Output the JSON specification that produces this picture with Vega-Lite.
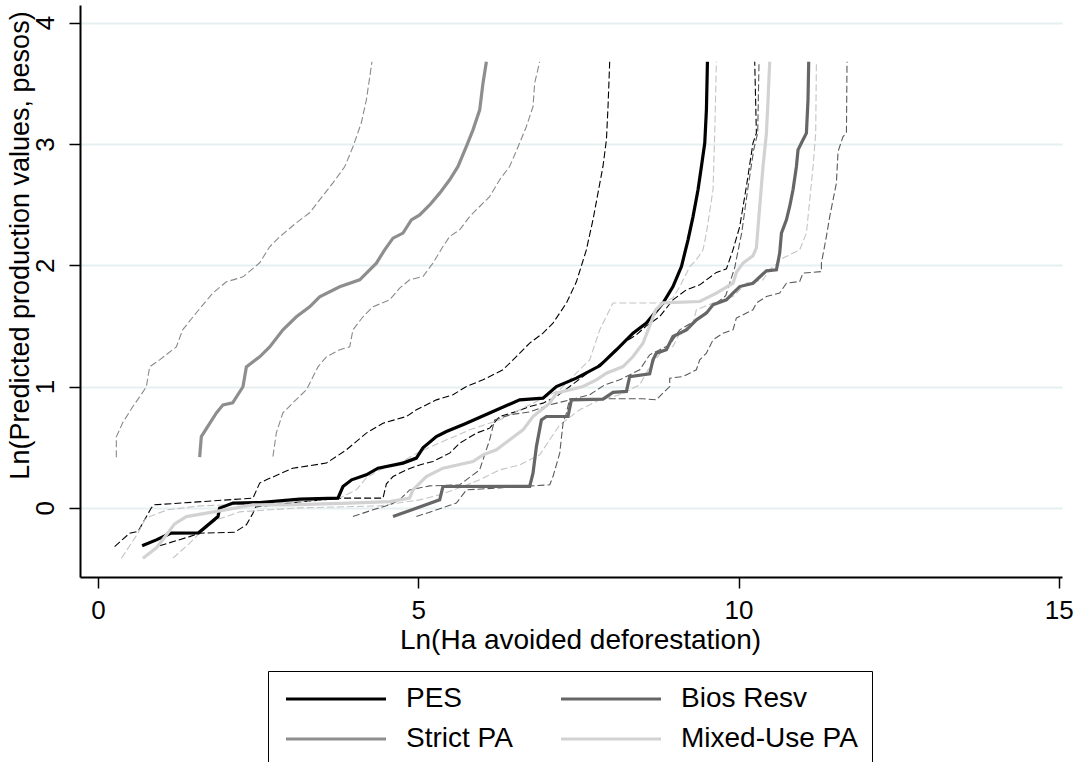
{
"$schema": "https://vega.github.io/schema/vega-lite/v6.json",
"width": 982, "height": 572,
"autosize": {"type": "none"},
"padding": {"left": 80, "top": 5, "right": 16, "bottom": 185},
"background": "white",
"config": {"view": {"stroke": null}, "font": "Liberation Sans"},
"data": {"values": [
{"s":"PES","b":"est","i":0,"x":0.69,"y":-0.313},{"s":"PES","b":"est","i":1,"x":0.912,"y":-0.264},{"s":"PES","b":"est","i":2,"x":1.135,"y":-0.209},{"s":"PES","b":"est","i":3,"x":1.572,"y":-0.206},{"s":"PES","b":"est","i":4,"x":1.874,"y":-0.072},{"s":"PES","b":"est","i":5,"x":1.9,"y":-0.002},{"s":"PES","b":"est","i":6,"x":2.108,"y":0.039},{"s":"PES","b":"est","i":7,"x":2.525,"y":0.044},{"s":"PES","b":"est","i":8,"x":3.149,"y":0.072},{"s":"PES","b":"est","i":9,"x":3.747,"y":0.08},{"s":"PES","b":"est","i":10,"x":3.825,"y":0.176},{"s":"PES","b":"est","i":11,"x":3.961,"y":0.231},{"s":"PES","b":"est","i":12,"x":4.19,"y":0.272},{"s":"PES","b":"est","i":13,"x":4.372,"y":0.327},{"s":"PES","b":"est","i":14,"x":4.762,"y":0.369},{"s":"PES","b":"est","i":15,"x":4.971,"y":0.41},{"s":"PES","b":"est","i":16,"x":5.074,"y":0.495},{"s":"PES","b":"est","i":17,"x":5.283,"y":0.588},{"s":"PES","b":"est","i":18,"x":5.44,"y":0.629},{"s":"PES","b":"est","i":19,"x":5.725,"y":0.692},{"s":"PES","b":"est","i":20,"x":6.167,"y":0.794},{"s":"PES","b":"est","i":21,"x":6.584,"y":0.89},{"s":"PES","b":"est","i":22,"x":6.948,"y":0.904},{"s":"PES","b":"est","i":23,"x":7.157,"y":1.0},{"s":"PES","b":"est","i":24,"x":7.469,"y":1.069},{"s":"PES","b":"est","i":25,"x":7.833,"y":1.171},{"s":"PES","b":"est","i":26,"x":8.094,"y":1.303},{"s":"PES","b":"est","i":27,"x":8.353,"y":1.44},{"s":"PES","b":"est","i":28,"x":8.562,"y":1.523},{"s":"PES","b":"est","i":29,"x":8.821,"y":1.688},{"s":"PES","b":"est","i":30,"x":8.977,"y":1.824},{"s":"PES","b":"est","i":31,"x":9.109,"y":1.989},{"s":"PES","b":"est","i":32,"x":9.212,"y":2.209},{"s":"PES","b":"est","i":33,"x":9.29,"y":2.401},{"s":"PES","b":"est","i":34,"x":9.368,"y":2.622},{"s":"PES","b":"est","i":35,"x":9.421,"y":2.814},{"s":"PES","b":"est","i":36,"x":9.473,"y":3.007},{"s":"PES","b":"est","i":37,"x":9.499,"y":3.281},{"s":"PES","b":"est","i":38,"x":9.515,"y":3.677},
{"s":"PES","b":"lo","i":0,"x":0.261,"y":-0.319},{"s":"PES","b":"lo","i":1,"x":0.495,"y":-0.209},{"s":"PES","b":"lo","i":2,"x":0.625,"y":-0.195},{"s":"PES","b":"lo","i":3,"x":0.834,"y":0.0},{"s":"PES","b":"lo","i":4,"x":0.885,"y":0.025},{"s":"PES","b":"lo","i":5,"x":2.42,"y":0.08},{"s":"PES","b":"lo","i":6,"x":2.525,"y":0.204},{"s":"PES","b":"lo","i":7,"x":2.629,"y":0.231},{"s":"PES","b":"lo","i":8,"x":3.044,"y":0.327},{"s":"PES","b":"lo","i":9,"x":3.566,"y":0.369},{"s":"PES","b":"lo","i":10,"x":3.878,"y":0.478},{"s":"PES","b":"lo","i":11,"x":4.19,"y":0.616},{"s":"PES","b":"lo","i":12,"x":4.45,"y":0.698},{"s":"PES","b":"lo","i":13,"x":4.815,"y":0.753},{"s":"PES","b":"lo","i":14,"x":4.971,"y":0.808},{"s":"PES","b":"lo","i":15,"x":5.283,"y":0.89},{"s":"PES","b":"lo","i":16,"x":5.543,"y":0.932},{"s":"PES","b":"lo","i":17,"x":5.752,"y":1.0},{"s":"PES","b":"lo","i":18,"x":6.011,"y":1.055},{"s":"PES","b":"lo","i":19,"x":6.323,"y":1.138},{"s":"PES","b":"lo","i":20,"x":6.532,"y":1.247},{"s":"PES","b":"lo","i":21,"x":6.74,"y":1.358},{"s":"PES","b":"lo","i":22,"x":6.948,"y":1.44},{"s":"PES","b":"lo","i":23,"x":7.104,"y":1.523},{"s":"PES","b":"lo","i":24,"x":7.313,"y":1.688},{"s":"PES","b":"lo","i":25,"x":7.469,"y":1.863},{"s":"PES","b":"lo","i":26,"x":7.625,"y":2.127},{"s":"PES","b":"lo","i":27,"x":7.728,"y":2.374},{"s":"PES","b":"lo","i":28,"x":7.806,"y":2.594},{"s":"PES","b":"lo","i":29,"x":7.884,"y":2.814},{"s":"PES","b":"lo","i":30,"x":7.938,"y":3.034},{"s":"PES","b":"lo","i":31,"x":7.963,"y":3.308},{"s":"PES","b":"lo","i":32,"x":7.989,"y":3.677},
{"s":"PES","b":"hi","i":0,"x":0.963,"y":-0.313},{"s":"PES","b":"hi","i":1,"x":1.432,"y":-0.237},{"s":"PES","b":"hi","i":2,"x":1.588,"y":-0.209},{"s":"PES","b":"hi","i":3,"x":2.134,"y":-0.201},{"s":"PES","b":"hi","i":4,"x":2.317,"y":-0.14},{"s":"PES","b":"hi","i":5,"x":2.42,"y":-0.044},{"s":"PES","b":"hi","i":6,"x":2.462,"y":0.008},{"s":"PES","b":"hi","i":7,"x":3.149,"y":0.049},{"s":"PES","b":"hi","i":8,"x":3.82,"y":0.08},{"s":"PES","b":"hi","i":9,"x":4.45,"y":0.08},{"s":"PES","b":"hi","i":10,"x":4.503,"y":0.198},{"s":"PES","b":"hi","i":11,"x":4.606,"y":0.258},{"s":"PES","b":"hi","i":12,"x":4.815,"y":0.313},{"s":"PES","b":"hi","i":13,"x":5.023,"y":0.354},{"s":"PES","b":"hi","i":14,"x":5.23,"y":0.382},{"s":"PES","b":"hi","i":15,"x":5.491,"y":0.451},{"s":"PES","b":"hi","i":16,"x":5.647,"y":0.533},{"s":"PES","b":"hi","i":17,"x":5.908,"y":0.616},{"s":"PES","b":"hi","i":18,"x":6.115,"y":0.657},{"s":"PES","b":"hi","i":19,"x":6.271,"y":0.753},{"s":"PES","b":"hi","i":20,"x":6.532,"y":0.794},{"s":"PES","b":"hi","i":21,"x":6.74,"y":0.835},{"s":"PES","b":"hi","i":22,"x":6.948,"y":0.863},{"s":"PES","b":"hi","i":23,"x":7.157,"y":0.918},{"s":"PES","b":"hi","i":24,"x":7.365,"y":1.0},{"s":"PES","b":"hi","i":25,"x":7.572,"y":1.082},{"s":"PES","b":"hi","i":26,"x":7.781,"y":1.165},{"s":"PES","b":"hi","i":27,"x":7.989,"y":1.247},{"s":"PES","b":"hi","i":28,"x":8.197,"y":1.358},{"s":"PES","b":"hi","i":29,"x":8.406,"y":1.426},{"s":"PES","b":"hi","i":30,"x":8.562,"y":1.5},{"s":"PES","b":"hi","i":31,"x":8.77,"y":1.577},{"s":"PES","b":"hi","i":32,"x":8.977,"y":1.715},{"s":"PES","b":"hi","i":33,"x":9.187,"y":1.797},{"s":"PES","b":"hi","i":34,"x":9.394,"y":1.838},{"s":"PES","b":"hi","i":35,"x":9.655,"y":1.941},{"s":"PES","b":"hi","i":36,"x":9.811,"y":1.97},{"s":"PES","b":"hi","i":37,"x":9.914,"y":2.127},{"s":"PES","b":"hi","i":38,"x":10.019,"y":2.319},{"s":"PES","b":"hi","i":39,"x":10.123,"y":2.649},{"s":"PES","b":"hi","i":40,"x":10.226,"y":3.007},{"s":"PES","b":"hi","i":41,"x":10.279,"y":3.089},{"s":"PES","b":"hi","i":42,"x":10.253,"y":3.677},
{"s":"Strict PA","b":"est","i":0,"x":1.588,"y":0.418},{"s":"Strict PA","b":"est","i":1,"x":1.614,"y":0.588},{"s":"Strict PA","b":"est","i":2,"x":1.849,"y":0.783},{"s":"Strict PA","b":"est","i":3,"x":1.952,"y":0.849},{"s":"Strict PA","b":"est","i":4,"x":2.103,"y":0.866},{"s":"Strict PA","b":"est","i":5,"x":2.264,"y":0.998},{"s":"Strict PA","b":"est","i":6,"x":2.317,"y":1.162},{"s":"Strict PA","b":"est","i":7,"x":2.525,"y":1.245},{"s":"Strict PA","b":"est","i":8,"x":2.681,"y":1.327},{"s":"Strict PA","b":"est","i":9,"x":2.888,"y":1.467},{"s":"Strict PA","b":"est","i":10,"x":3.098,"y":1.575},{"s":"Strict PA","b":"est","i":11,"x":3.305,"y":1.657},{"s":"Strict PA","b":"est","i":12,"x":3.461,"y":1.739},{"s":"Strict PA","b":"est","i":13,"x":3.774,"y":1.822},{"s":"Strict PA","b":"est","i":14,"x":4.086,"y":1.88},{"s":"Strict PA","b":"est","i":15,"x":4.347,"y":2.017},{"s":"Strict PA","b":"est","i":16,"x":4.476,"y":2.127},{"s":"Strict PA","b":"est","i":17,"x":4.606,"y":2.223},{"s":"Strict PA","b":"est","i":18,"x":4.762,"y":2.265},{"s":"Strict PA","b":"est","i":19,"x":4.893,"y":2.374},{"s":"Strict PA","b":"est","i":20,"x":5.023,"y":2.415},{"s":"Strict PA","b":"est","i":21,"x":5.179,"y":2.497},{"s":"Strict PA","b":"est","i":22,"x":5.335,"y":2.594},{"s":"Strict PA","b":"est","i":23,"x":5.491,"y":2.704},{"s":"Strict PA","b":"est","i":24,"x":5.621,"y":2.814},{"s":"Strict PA","b":"est","i":25,"x":5.752,"y":2.979},{"s":"Strict PA","b":"est","i":26,"x":5.855,"y":3.116},{"s":"Strict PA","b":"est","i":27,"x":5.96,"y":3.281},{"s":"Strict PA","b":"est","i":28,"x":6.011,"y":3.501},{"s":"Strict PA","b":"est","i":29,"x":6.064,"y":3.677},
{"s":"Strict PA","b":"lo","i":0,"x":0.287,"y":0.418},{"s":"Strict PA","b":"lo","i":1,"x":0.287,"y":0.585},{"s":"Strict PA","b":"lo","i":2,"x":0.386,"y":0.701},{"s":"Strict PA","b":"lo","i":3,"x":0.542,"y":0.833},{"s":"Strict PA","b":"lo","i":4,"x":0.651,"y":0.915},{"s":"Strict PA","b":"lo","i":5,"x":0.756,"y":0.998},{"s":"Strict PA","b":"lo","i":6,"x":0.807,"y":1.162},{"s":"Strict PA","b":"lo","i":7,"x":0.963,"y":1.22},{"s":"Strict PA","b":"lo","i":8,"x":1.224,"y":1.327},{"s":"Strict PA","b":"lo","i":9,"x":1.322,"y":1.467},{"s":"Strict PA","b":"lo","i":10,"x":1.536,"y":1.608},{"s":"Strict PA","b":"lo","i":11,"x":1.795,"y":1.772},{"s":"Strict PA","b":"lo","i":12,"x":2.005,"y":1.863},{"s":"Strict PA","b":"lo","i":13,"x":2.264,"y":1.904},{"s":"Strict PA","b":"lo","i":14,"x":2.525,"y":2.02},{"s":"Strict PA","b":"lo","i":15,"x":2.681,"y":2.152},{"s":"Strict PA","b":"lo","i":16,"x":2.837,"y":2.234},{"s":"Strict PA","b":"lo","i":17,"x":3.098,"y":2.35},{"s":"Strict PA","b":"lo","i":18,"x":3.305,"y":2.432},{"s":"Strict PA","b":"lo","i":19,"x":3.461,"y":2.539},{"s":"Strict PA","b":"lo","i":20,"x":3.669,"y":2.679},{"s":"Strict PA","b":"lo","i":21,"x":3.852,"y":2.811},{"s":"Strict PA","b":"lo","i":22,"x":3.981,"y":2.976},{"s":"Strict PA","b":"lo","i":23,"x":4.112,"y":3.174},{"s":"Strict PA","b":"lo","i":24,"x":4.191,"y":3.364},{"s":"Strict PA","b":"lo","i":25,"x":4.278,"y":3.677},
{"s":"Strict PA","b":"hi","i":0,"x":2.732,"y":0.423},{"s":"Strict PA","b":"hi","i":1,"x":2.785,"y":0.618},{"s":"Strict PA","b":"hi","i":2,"x":2.888,"y":0.783},{"s":"Strict PA","b":"hi","i":3,"x":3.044,"y":0.866},{"s":"Strict PA","b":"hi","i":4,"x":3.254,"y":0.973},{"s":"Strict PA","b":"hi","i":5,"x":3.357,"y":1.08},{"s":"Strict PA","b":"hi","i":6,"x":3.435,"y":1.162},{"s":"Strict PA","b":"hi","i":7,"x":3.566,"y":1.245},{"s":"Strict PA","b":"hi","i":8,"x":3.774,"y":1.303},{"s":"Strict PA","b":"hi","i":9,"x":3.93,"y":1.327},{"s":"Strict PA","b":"hi","i":10,"x":3.981,"y":1.467},{"s":"Strict PA","b":"hi","i":11,"x":4.137,"y":1.575},{"s":"Strict PA","b":"hi","i":12,"x":4.294,"y":1.657},{"s":"Strict PA","b":"hi","i":13,"x":4.554,"y":1.715},{"s":"Strict PA","b":"hi","i":14,"x":4.71,"y":1.811},{"s":"Strict PA","b":"hi","i":15,"x":4.866,"y":1.88},{"s":"Strict PA","b":"hi","i":16,"x":5.074,"y":1.907},{"s":"Strict PA","b":"hi","i":17,"x":5.23,"y":2.017},{"s":"Strict PA","b":"hi","i":18,"x":5.386,"y":2.154},{"s":"Strict PA","b":"hi","i":19,"x":5.491,"y":2.237},{"s":"Strict PA","b":"hi","i":20,"x":5.647,"y":2.292},{"s":"Strict PA","b":"hi","i":21,"x":5.803,"y":2.401},{"s":"Strict PA","b":"hi","i":22,"x":5.959,"y":2.484},{"s":"Strict PA","b":"hi","i":23,"x":6.115,"y":2.566},{"s":"Strict PA","b":"hi","i":24,"x":6.271,"y":2.704},{"s":"Strict PA","b":"hi","i":25,"x":6.427,"y":2.814},{"s":"Strict PA","b":"hi","i":26,"x":6.583,"y":3.007},{"s":"Strict PA","b":"hi","i":27,"x":6.689,"y":3.144},{"s":"Strict PA","b":"hi","i":28,"x":6.792,"y":3.308},{"s":"Strict PA","b":"hi","i":29,"x":6.818,"y":3.501},{"s":"Strict PA","b":"hi","i":30,"x":6.896,"y":3.677},
{"s":"Mixed-Use PA","b":"est","i":0,"x":0.703,"y":-0.415},{"s":"Mixed-Use PA","b":"est","i":1,"x":0.912,"y":-0.33},{"s":"Mixed-Use PA","b":"est","i":2,"x":1.068,"y":-0.223},{"s":"Mixed-Use PA","b":"est","i":3,"x":1.197,"y":-0.132},{"s":"Mixed-Use PA","b":"est","i":4,"x":1.38,"y":-0.072},{"s":"Mixed-Use PA","b":"est","i":5,"x":1.9,"y":-0.025},{"s":"Mixed-Use PA","b":"est","i":6,"x":2.42,"y":0.025},{"s":"Mixed-Use PA","b":"est","i":7,"x":2.993,"y":0.025},{"s":"Mixed-Use PA","b":"est","i":8,"x":3.93,"y":0.039},{"s":"Mixed-Use PA","b":"est","i":9,"x":4.554,"y":0.052},{"s":"Mixed-Use PA","b":"est","i":10,"x":4.866,"y":0.08},{"s":"Mixed-Use PA","b":"est","i":11,"x":4.918,"y":0.148},{"s":"Mixed-Use PA","b":"est","i":12,"x":5.127,"y":0.258},{"s":"Mixed-Use PA","b":"est","i":13,"x":5.386,"y":0.327},{"s":"Mixed-Use PA","b":"est","i":14,"x":5.855,"y":0.382},{"s":"Mixed-Use PA","b":"est","i":15,"x":6.011,"y":0.437},{"s":"Mixed-Use PA","b":"est","i":16,"x":6.22,"y":0.478},{"s":"Mixed-Use PA","b":"est","i":17,"x":6.428,"y":0.561},{"s":"Mixed-Use PA","b":"est","i":18,"x":6.636,"y":0.643},{"s":"Mixed-Use PA","b":"est","i":19,"x":6.792,"y":0.753},{"s":"Mixed-Use PA","b":"est","i":20,"x":7.052,"y":0.863},{"s":"Mixed-Use PA","b":"est","i":21,"x":7.157,"y":0.946},{"s":"Mixed-Use PA","b":"est","i":22,"x":7.572,"y":1.0},{"s":"Mixed-Use PA","b":"est","i":23,"x":7.781,"y":1.055},{"s":"Mixed-Use PA","b":"est","i":24,"x":7.938,"y":1.11},{"s":"Mixed-Use PA","b":"est","i":25,"x":8.197,"y":1.165},{"s":"Mixed-Use PA","b":"est","i":26,"x":8.353,"y":1.247},{"s":"Mixed-Use PA","b":"est","i":27,"x":8.509,"y":1.358},{"s":"Mixed-Use PA","b":"est","i":28,"x":8.613,"y":1.5},{"s":"Mixed-Use PA","b":"est","i":29,"x":8.707,"y":1.632},{"s":"Mixed-Use PA","b":"est","i":30,"x":8.821,"y":1.69},{"s":"Mixed-Use PA","b":"est","i":31,"x":9.394,"y":1.701},{"s":"Mixed-Use PA","b":"est","i":32,"x":9.655,"y":1.77},{"s":"Mixed-Use PA","b":"est","i":33,"x":9.914,"y":1.852},{"s":"Mixed-Use PA","b":"est","i":34,"x":9.972,"y":1.946},{"s":"Mixed-Use PA","b":"est","i":35,"x":10.07,"y":2.017},{"s":"Mixed-Use PA","b":"est","i":36,"x":10.226,"y":2.078},{"s":"Mixed-Use PA","b":"est","i":37,"x":10.279,"y":2.143},{"s":"Mixed-Use PA","b":"est","i":38,"x":10.331,"y":2.484},{"s":"Mixed-Use PA","b":"est","i":39,"x":10.383,"y":2.814},{"s":"Mixed-Use PA","b":"est","i":40,"x":10.436,"y":3.089},{"s":"Mixed-Use PA","b":"est","i":41,"x":10.461,"y":3.364},{"s":"Mixed-Use PA","b":"est","i":42,"x":10.487,"y":3.677},
{"s":"Mixed-Use PA","b":"lo","i":0,"x":0.367,"y":-0.415},{"s":"Mixed-Use PA","b":"lo","i":1,"x":0.625,"y":-0.209},{"s":"Mixed-Use PA","b":"lo","i":2,"x":0.729,"y":-0.099},{"s":"Mixed-Use PA","b":"lo","i":3,"x":0.807,"y":-0.072},{"s":"Mixed-Use PA","b":"lo","i":4,"x":1.087,"y":-0.016},{"s":"Mixed-Use PA","b":"lo","i":5,"x":1.588,"y":0.016},{"s":"Mixed-Use PA","b":"lo","i":6,"x":2.525,"y":0.033},{"s":"Mixed-Use PA","b":"lo","i":7,"x":3.149,"y":0.049},{"s":"Mixed-Use PA","b":"lo","i":8,"x":3.774,"y":0.082},{"s":"Mixed-Use PA","b":"lo","i":9,"x":4.034,"y":0.148},{"s":"Mixed-Use PA","b":"lo","i":10,"x":4.19,"y":0.247},{"s":"Mixed-Use PA","b":"lo","i":11,"x":4.398,"y":0.313},{"s":"Mixed-Use PA","b":"lo","i":12,"x":4.71,"y":0.371},{"s":"Mixed-Use PA","b":"lo","i":13,"x":5.023,"y":0.462},{"s":"Mixed-Use PA","b":"lo","i":14,"x":5.335,"y":0.536},{"s":"Mixed-Use PA","b":"lo","i":15,"x":5.803,"y":0.643},{"s":"Mixed-Use PA","b":"lo","i":16,"x":6.271,"y":0.725},{"s":"Mixed-Use PA","b":"lo","i":17,"x":6.584,"y":0.808},{"s":"Mixed-Use PA","b":"lo","i":18,"x":6.896,"y":0.89},{"s":"Mixed-Use PA","b":"lo","i":19,"x":7.209,"y":0.973},{"s":"Mixed-Use PA","b":"lo","i":20,"x":7.521,"y":1.138},{"s":"Mixed-Use PA","b":"lo","i":21,"x":7.677,"y":1.22},{"s":"Mixed-Use PA","b":"lo","i":22,"x":7.833,"y":1.467},{"s":"Mixed-Use PA","b":"lo","i":23,"x":8.041,"y":1.688},{"s":"Mixed-Use PA","b":"lo","i":24,"x":8.821,"y":1.688},{"s":"Mixed-Use PA","b":"lo","i":25,"x":8.977,"y":1.731},{"s":"Mixed-Use PA","b":"lo","i":26,"x":9.082,"y":1.822},{"s":"Mixed-Use PA","b":"lo","i":27,"x":9.238,"y":1.987},{"s":"Mixed-Use PA","b":"lo","i":28,"x":9.342,"y":2.045},{"s":"Mixed-Use PA","b":"lo","i":29,"x":9.446,"y":2.127},{"s":"Mixed-Use PA","b":"lo","i":30,"x":9.499,"y":2.265},{"s":"Mixed-Use PA","b":"lo","i":31,"x":9.602,"y":2.622},{"s":"Mixed-Use PA","b":"lo","i":32,"x":9.629,"y":3.092},{"s":"Mixed-Use PA","b":"lo","i":33,"x":9.655,"y":3.677},
{"s":"Mixed-Use PA","b":"hi","i":0,"x":1.171,"y":-0.415},{"s":"Mixed-Use PA","b":"hi","i":1,"x":1.432,"y":-0.291},{"s":"Mixed-Use PA","b":"hi","i":2,"x":1.588,"y":-0.209},{"s":"Mixed-Use PA","b":"hi","i":3,"x":1.849,"y":-0.099},{"s":"Mixed-Use PA","b":"hi","i":4,"x":2.212,"y":-0.033},{"s":"Mixed-Use PA","b":"hi","i":5,"x":3.149,"y":0.0},{"s":"Mixed-Use PA","b":"hi","i":6,"x":4.398,"y":0.016},{"s":"Mixed-Use PA","b":"hi","i":7,"x":5.023,"y":0.066},{"s":"Mixed-Use PA","b":"hi","i":8,"x":5.335,"y":0.107},{"s":"Mixed-Use PA","b":"hi","i":9,"x":5.647,"y":0.165},{"s":"Mixed-Use PA","b":"hi","i":10,"x":5.959,"y":0.231},{"s":"Mixed-Use PA","b":"hi","i":11,"x":6.271,"y":0.313},{"s":"Mixed-Use PA","b":"hi","i":12,"x":6.584,"y":0.354},{"s":"Mixed-Use PA","b":"hi","i":13,"x":6.896,"y":0.437},{"s":"Mixed-Use PA","b":"hi","i":14,"x":7.052,"y":0.561},{"s":"Mixed-Use PA","b":"hi","i":15,"x":7.209,"y":0.684},{"s":"Mixed-Use PA","b":"hi","i":16,"x":7.521,"y":0.808},{"s":"Mixed-Use PA","b":"hi","i":17,"x":7.833,"y":0.89},{"s":"Mixed-Use PA","b":"hi","i":18,"x":8.146,"y":0.932},{"s":"Mixed-Use PA","b":"hi","i":19,"x":8.458,"y":1.014},{"s":"Mixed-Use PA","b":"hi","i":20,"x":8.613,"y":1.162},{"s":"Mixed-Use PA","b":"hi","i":21,"x":8.821,"y":1.303},{"s":"Mixed-Use PA","b":"hi","i":22,"x":8.977,"y":1.33},{"s":"Mixed-Use PA","b":"hi","i":23,"x":9.082,"y":1.44},{"s":"Mixed-Use PA","b":"hi","i":24,"x":9.29,"y":1.523},{"s":"Mixed-Use PA","b":"hi","i":25,"x":9.342,"y":1.632},{"s":"Mixed-Use PA","b":"hi","i":26,"x":9.602,"y":1.688},{"s":"Mixed-Use PA","b":"hi","i":27,"x":9.914,"y":1.742},{"s":"Mixed-Use PA","b":"hi","i":28,"x":10.123,"y":1.852},{"s":"Mixed-Use PA","b":"hi","i":29,"x":10.383,"y":1.88},{"s":"Mixed-Use PA","b":"hi","i":30,"x":10.487,"y":1.962},{"s":"Mixed-Use PA","b":"hi","i":31,"x":10.695,"y":2.059},{"s":"Mixed-Use PA","b":"hi","i":32,"x":10.955,"y":2.127},{"s":"Mixed-Use PA","b":"hi","i":33,"x":11.06,"y":2.265},{"s":"Mixed-Use PA","b":"hi","i":34,"x":11.112,"y":2.539},{"s":"Mixed-Use PA","b":"hi","i":35,"x":11.164,"y":2.814},{"s":"Mixed-Use PA","b":"hi","i":36,"x":11.205,"y":3.089},{"s":"Mixed-Use PA","b":"hi","i":37,"x":11.216,"y":3.677},
{"s":"Bios Resv","b":"est","i":0,"x":4.606,"y":-0.072},{"s":"Bios Resv","b":"est","i":1,"x":5.335,"y":0.066},{"s":"Bios Resv","b":"est","i":2,"x":5.386,"y":0.176},{"s":"Bios Resv","b":"est","i":3,"x":6.74,"y":0.177},{"s":"Bios Resv","b":"est","i":4,"x":6.792,"y":0.286},{"s":"Bios Resv","b":"est","i":5,"x":6.845,"y":0.505},{"s":"Bios Resv","b":"est","i":6,"x":6.923,"y":0.725},{"s":"Bios Resv","b":"est","i":7,"x":7.001,"y":0.753},{"s":"Bios Resv","b":"est","i":8,"x":7.338,"y":0.753},{"s":"Bios Resv","b":"est","i":9,"x":7.391,"y":0.89},{"s":"Bios Resv","b":"est","i":10,"x":7.884,"y":0.896},{"s":"Bios Resv","b":"est","i":11,"x":8.041,"y":0.952},{"s":"Bios Resv","b":"est","i":12,"x":8.25,"y":0.96},{"s":"Bios Resv","b":"est","i":13,"x":8.301,"y":1.082},{"s":"Bios Resv","b":"est","i":14,"x":8.613,"y":1.105},{"s":"Bios Resv","b":"est","i":15,"x":8.665,"y":1.22},{"s":"Bios Resv","b":"est","i":16,"x":8.718,"y":1.275},{"s":"Bios Resv","b":"est","i":17,"x":8.874,"y":1.303},{"s":"Bios Resv","b":"est","i":18,"x":8.977,"y":1.412},{"s":"Bios Resv","b":"est","i":19,"x":9.187,"y":1.467},{"s":"Bios Resv","b":"est","i":20,"x":9.343,"y":1.55},{"s":"Bios Resv","b":"est","i":21,"x":9.499,"y":1.605},{"s":"Bios Resv","b":"est","i":22,"x":9.602,"y":1.674},{"s":"Bios Resv","b":"est","i":23,"x":9.811,"y":1.715},{"s":"Bios Resv","b":"est","i":24,"x":9.914,"y":1.77},{"s":"Bios Resv","b":"est","i":25,"x":10.019,"y":1.824},{"s":"Bios Resv","b":"est","i":26,"x":10.226,"y":1.852},{"s":"Bios Resv","b":"est","i":27,"x":10.436,"y":1.954},{"s":"Bios Resv","b":"est","i":28,"x":10.592,"y":1.962},{"s":"Bios Resv","b":"est","i":29,"x":10.643,"y":2.1},{"s":"Bios Resv","b":"est","i":30,"x":10.67,"y":2.265},{"s":"Bios Resv","b":"est","i":31,"x":10.748,"y":2.374},{"s":"Bios Resv","b":"est","i":32,"x":10.799,"y":2.484},{"s":"Bios Resv","b":"est","i":33,"x":10.851,"y":2.622},{"s":"Bios Resv","b":"est","i":34,"x":10.904,"y":2.814},{"s":"Bios Resv","b":"est","i":35,"x":10.929,"y":2.951},{"s":"Bios Resv","b":"est","i":36,"x":11.007,"y":3.034},{"s":"Bios Resv","b":"est","i":37,"x":11.06,"y":3.089},{"s":"Bios Resv","b":"est","i":38,"x":11.085,"y":3.364},{"s":"Bios Resv","b":"est","i":39,"x":11.096,"y":3.677},
{"s":"Bios Resv","b":"lo","i":0,"x":3.981,"y":-0.072},{"s":"Bios Resv","b":"lo","i":1,"x":4.294,"y":-0.016},{"s":"Bios Resv","b":"lo","i":2,"x":4.554,"y":0.025},{"s":"Bios Resv","b":"lo","i":3,"x":4.71,"y":0.066},{"s":"Bios Resv","b":"lo","i":4,"x":4.866,"y":0.148},{"s":"Bios Resv","b":"lo","i":5,"x":5.179,"y":0.181},{"s":"Bios Resv","b":"lo","i":6,"x":5.647,"y":0.19},{"s":"Bios Resv","b":"lo","i":7,"x":5.959,"y":0.313},{"s":"Bios Resv","b":"lo","i":8,"x":6.115,"y":0.561},{"s":"Bios Resv","b":"lo","i":9,"x":6.193,"y":0.725},{"s":"Bios Resv","b":"lo","i":10,"x":6.428,"y":0.767},{"s":"Bios Resv","b":"lo","i":11,"x":6.74,"y":0.791},{"s":"Bios Resv","b":"lo","i":12,"x":7.052,"y":0.849},{"s":"Bios Resv","b":"lo","i":13,"x":7.365,"y":0.89},{"s":"Bios Resv","b":"lo","i":14,"x":7.677,"y":0.932},{"s":"Bios Resv","b":"lo","i":15,"x":7.911,"y":1.014},{"s":"Bios Resv","b":"lo","i":16,"x":8.146,"y":1.055},{"s":"Bios Resv","b":"lo","i":17,"x":8.458,"y":1.138},{"s":"Bios Resv","b":"lo","i":18,"x":8.613,"y":1.261},{"s":"Bios Resv","b":"lo","i":19,"x":8.926,"y":1.344},{"s":"Bios Resv","b":"lo","i":20,"x":9.082,"y":1.467},{"s":"Bios Resv","b":"lo","i":21,"x":9.394,"y":1.566},{"s":"Bios Resv","b":"lo","i":22,"x":9.597,"y":1.665},{"s":"Bios Resv","b":"lo","i":23,"x":9.8,"y":1.748},{"s":"Bios Resv","b":"lo","i":24,"x":9.94,"y":1.979},{"s":"Bios Resv","b":"lo","i":25,"x":10.05,"y":2.267},{"s":"Bios Resv","b":"lo","i":26,"x":10.143,"y":2.622},{"s":"Bios Resv","b":"lo","i":27,"x":10.237,"y":2.951},{"s":"Bios Resv","b":"lo","i":28,"x":10.3,"y":3.092},{"s":"Bios Resv","b":"lo","i":29,"x":10.32,"y":3.677},
{"s":"Bios Resv","b":"hi","i":0,"x":4.971,"y":-0.072},{"s":"Bios Resv","b":"hi","i":1,"x":5.596,"y":0.039},{"s":"Bios Resv","b":"hi","i":2,"x":5.752,"y":0.148},{"s":"Bios Resv","b":"hi","i":3,"x":6.272,"y":0.165},{"s":"Bios Resv","b":"hi","i":4,"x":7.053,"y":0.19},{"s":"Bios Resv","b":"hi","i":5,"x":7.104,"y":0.258},{"s":"Bios Resv","b":"hi","i":6,"x":7.209,"y":0.451},{"s":"Bios Resv","b":"hi","i":7,"x":7.261,"y":0.698},{"s":"Bios Resv","b":"hi","i":8,"x":7.313,"y":0.781},{"s":"Bios Resv","b":"hi","i":9,"x":7.365,"y":0.899},{"s":"Bios Resv","b":"hi","i":10,"x":8.509,"y":0.899},{"s":"Bios Resv","b":"hi","i":11,"x":8.718,"y":0.89},{"s":"Bios Resv","b":"hi","i":12,"x":8.821,"y":0.946},{"s":"Bios Resv","b":"hi","i":13,"x":8.926,"y":1.0},{"s":"Bios Resv","b":"hi","i":14,"x":8.926,"y":1.069},{"s":"Bios Resv","b":"hi","i":15,"x":9.134,"y":1.082},{"s":"Bios Resv","b":"hi","i":16,"x":9.342,"y":1.138},{"s":"Bios Resv","b":"hi","i":17,"x":9.394,"y":1.22},{"s":"Bios Resv","b":"hi","i":18,"x":9.499,"y":1.275},{"s":"Bios Resv","b":"hi","i":19,"x":9.602,"y":1.385},{"s":"Bios Resv","b":"hi","i":20,"x":9.758,"y":1.44},{"s":"Bios Resv","b":"hi","i":21,"x":9.914,"y":1.467},{"s":"Bios Resv","b":"hi","i":22,"x":9.966,"y":1.564},{"s":"Bios Resv","b":"hi","i":23,"x":10.226,"y":1.632},{"s":"Bios Resv","b":"hi","i":24,"x":10.279,"y":1.688},{"s":"Bios Resv","b":"hi","i":25,"x":10.436,"y":1.742},{"s":"Bios Resv","b":"hi","i":26,"x":10.643,"y":1.77},{"s":"Bios Resv","b":"hi","i":27,"x":10.748,"y":1.852},{"s":"Bios Resv","b":"hi","i":28,"x":10.955,"y":1.866},{"s":"Bios Resv","b":"hi","i":29,"x":11.007,"y":1.935},{"s":"Bios Resv","b":"hi","i":30,"x":11.294,"y":1.948},{"s":"Bios Resv","b":"hi","i":31,"x":11.294,"y":2.017},{"s":"Bios Resv","b":"hi","i":32,"x":11.372,"y":2.237},{"s":"Bios Resv","b":"hi","i":33,"x":11.424,"y":2.401},{"s":"Bios Resv","b":"hi","i":34,"x":11.476,"y":2.539},{"s":"Bios Resv","b":"hi","i":35,"x":11.528,"y":2.677},{"s":"Bios Resv","b":"hi","i":36,"x":11.554,"y":2.937},{"s":"Bios Resv","b":"hi","i":37,"x":11.632,"y":3.061},{"s":"Bios Resv","b":"hi","i":38,"x":11.685,"y":3.089},{"s":"Bios Resv","b":"hi","i":39,"x":11.694,"y":3.677}
]},
"encoding": {
  "x": {"field": "x", "type": "quantitative",
    "scale": {"domain": [-0.28, 15.05], "nice": false, "zero": false},
    "axis": {"values": [0, 5, 10, 15], "grid": false, "domainColor": "black", "domainWidth": 2,
      "tickColor": "black", "tickSize": 11, "tickWidth": 1.5, "labelFontSize": 26, "labelColor": "black",
      "labelPadding": 30, "labelBaseline": "alphabetic", "labelFlush": false,
      "title": "Ln(Ha avoided deforestation)", "titleFontSize": 28, "titleFontWeight": "normal", "titleColor": "black",
      "titleX": 500, "titleY": 71, "titleBaseline": "alphabetic", "titleAlign": "center"}},
  "y": {"field": "y", "type": "quantitative",
    "scale": {"domain": [-0.57, 4.145], "nice": false, "zero": false},
    "axis": {"values": [0, 1, 2, 3, 4], "grid": true, "gridColor": "#e6eff0", "gridWidth": 2,
      "domainColor": "black", "domainWidth": 2, "tickColor": "black", "tickSize": 11, "tickWidth": 1.5,
      "labelAngle": -90, "labelAlign": "center", "labelBaseline": "alphabetic", "labelPadding": 16,
      "labelFontSize": 26, "labelColor": "black", "labelFlush": false,
      "title": "Ln(Predicted production values, pesos)", "titleFontSize": 27, "titleFontWeight": "normal",
      "titleColor": "black", "titleX": -52, "titleY": 240, "titleAngle": -90, "titleAlign": "center",
      "titleBaseline": "alphabetic"}},
  "order": {"field": "i", "type": "quantitative"},
  "detail": {"field": "b", "type": "nominal"}
},
"layer": [
  {"transform": [{"filter": "datum.b !== 'est'"}],
   "mark": {"type": "line", "strokeWidth": 1.1, "strokeDash": [7, 3]},
   "encoding": {"color": {"field": "s", "type": "nominal",
     "scale": {"domain": ["PES", "Bios Resv", "Strict PA", "Mixed-Use PA"], "range": ["#000000", "#5a5a5a", "#8a8a8a", "#c4c4c4"]},
     "legend": null}}},
  {"transform": [{"filter": "datum.b === 'est'"}],
   "mark": {"type": "line", "strokeWidth": 3.2},
   "encoding": {"color": {"field": "s", "type": "nominal",
     "scale": {"domain": ["PES", "Bios Resv", "Strict PA", "Mixed-Use PA"], "range": ["#000000", "#666666", "#8e8e8e", "#d2d2d2"]},
     "legend": {"orient": "none", "legendX": 188, "legendY": 666, "columns": 2, "direction": "horizontal", "title": null,
       "strokeColor": "black", "fillColor": "white", "padding": 14,
       "symbolType": "M-1,0H9", "symbolSize": 400, "symbolStrokeWidth": 3.2,
       "labelFontSize": 28, "labelColor": "black", "labelOffset": 96, "labelLimit": 400,
       "columnPadding": 41, "rowPadding": 12}}}}
],
"resolve": {"scale": {"color": "independent"}}
}
